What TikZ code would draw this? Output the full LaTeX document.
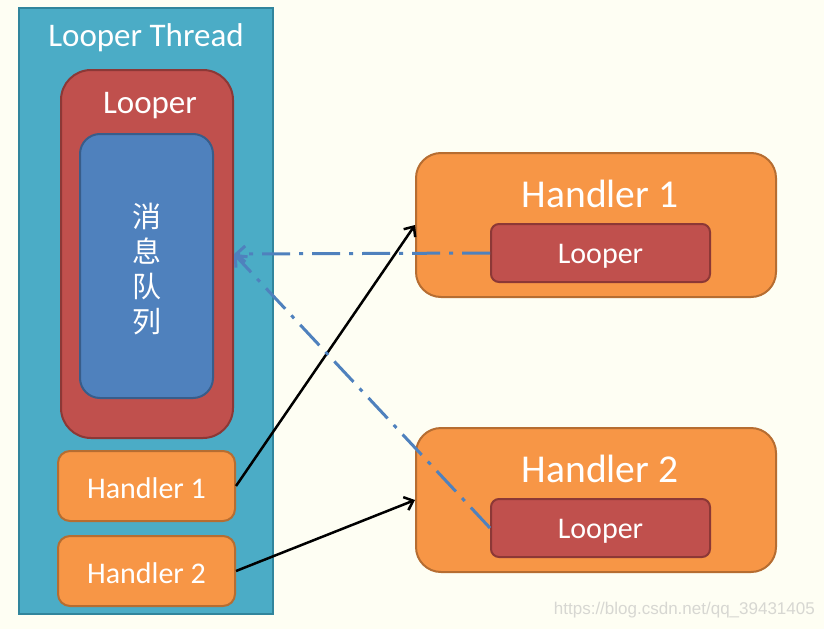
\documentclass[tikz,border=0pt]{standalone}
\usepackage{fontspec}
\setmainfont{Carlito}
\newfontfamily\cjk{Noto Sans CJK SC}
\newfontfamily\wm{Liberation Sans}
\usetikzlibrary{arrows.meta}
\definecolor{bgc}{RGB}{254,254,243}
\definecolor{tealf}{RGB}{75,172,198}
\definecolor{teald}{RGB}{49,133,156}
\definecolor{redf}{RGB}{192,80,77}
\definecolor{redd}{RGB}{140,56,54}
\definecolor{bluef}{RGB}{79,129,189}
\definecolor{blued}{RGB}{56,93,138}
\definecolor{orf}{RGB}{247,150,70}
\definecolor{ord}{RGB}{182,109,49}
\definecolor{wmc}{RGB}{215,215,210}
\tikzset{
  box/.style={draw, line width=2pt, inner sep=0pt, text=white},
  thread/.style={box, fill=tealf, draw=teald},
  looperbox/.style={box, fill=redf, draw=redd},
  queue/.style={box, fill=bluef, draw=blued},
  handlerbox/.style={box, fill=orf, draw=ord},
  lbl/.style={text=white, inner sep=0pt},
  call/.style={draw=black, line width=2.5pt, -{Straight Barb[length=8pt,width=14pt]}},
  ref/.style={draw=bluef, line width=3pt, dash pattern=on 28pt off 9pt on 4pt off 9pt, -{Straight Barb[length=9pt,width=16pt]}}
}
\begin{document}
\begin{tikzpicture}[x=1pt,y=-1pt]
\fill[bgc] (0,0) rectangle (824,629);
\useasboundingbox (0,0) rectangle (824,629);
% left thread
\node[thread, minimum width=254pt, minimum height=606pt] (thread) at (146,311) {};
\node[lbl, font=\fontsize{33}{38}\selectfont] (threadt) at (146,38) {Looper Thread};
\node[looperbox, rounded corners=30pt, minimum width=172pt, minimum height=368pt] (looper) at (147,254) {};
\node[lbl, font=\fontsize{33}{38}\selectfont] (loopert) at (150,106) {Looper};
\node[queue, rounded corners=20pt, minimum width=133pt, minimum height=264pt] (queue) at (146.5,266) {};
\node[lbl, align=center, font=\cjk\fontsize{29}{35}\selectfont] (queuet) at (146.5,269) {消\\息\\队\\列};
\node[handlerbox, rounded corners=12pt, minimum width=177pt, minimum height=70pt] (h1s) at (146.5,486) {};
\node[lbl, font=\fontsize{30}{34}\selectfont] (h1st) at (146.5,488) {Handler 1};
\node[handlerbox, rounded corners=12pt, minimum width=177pt, minimum height=70pt] (h2s) at (146.5,571) {};
\node[lbl, font=\fontsize{30}{34}\selectfont] (h2st) at (146.5,573) {Handler 2};
% right handlers
\node[handlerbox, rounded corners=25pt, minimum width=360pt, minimum height=144pt] (H1) at (596,225) {};
\node[lbl, font=\fontsize{39.5}{44}\selectfont] (H1t) at (600,194) {Handler 1};
\node[looperbox, rounded corners=8pt, minimum width=219pt, minimum height=58pt] (L1) at (600.5,253) {};
\node[lbl, font=\fontsize{30}{34}\selectfont] (L1t) at (600.5,256) {Looper};
\node[handlerbox, rounded corners=25pt, minimum width=360pt, minimum height=144pt] (H2) at (596,500) {};
\node[lbl, font=\fontsize{39.5}{44}\selectfont] (H2t) at (600,469) {Handler 2};
\node[looperbox, rounded corners=8pt, minimum width=219pt, minimum height=58pt] (L2) at (600.5,528) {};
\node[lbl, font=\fontsize{30}{34}\selectfont] (L2t) at (600.5,531) {Looper};
% connectors
\draw[call] (h1s.east) -- (H1.west);
\draw[call] (h2s.east) -- (H2.west);
\draw[ref] (L1.west) -- (looper.east);
\draw[ref] (L2.west) -- (looper.east);
% watermark
\node[text=wmc, font=\wm\fontsize{17}{20}\selectfont, anchor=east, inner sep=0pt] (wm) at (815,610) {https://blog.csdn.net/qq\_39431405};
\end{tikzpicture}
\end{document}
